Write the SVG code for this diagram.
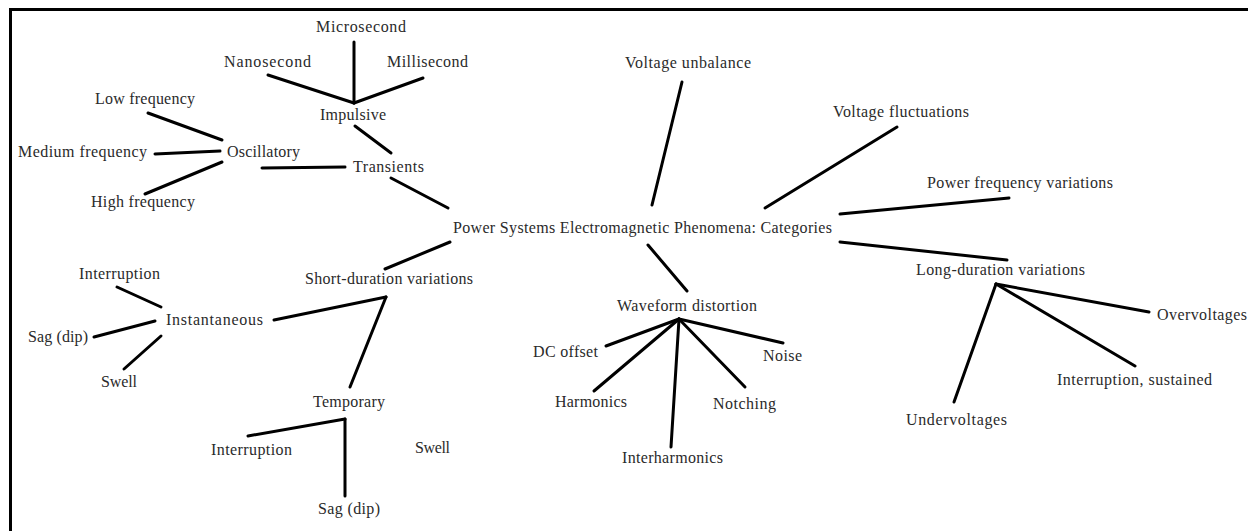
<svg xmlns="http://www.w3.org/2000/svg" width="1248" height="531" viewBox="0 0 1248 531">
<style>
text{font-family:"Liberation Serif","DejaVu Serif","Times New Roman",serif;font-size:16px;fill:#2a2a2a;}
.c line{stroke:#000;stroke-width:3;stroke-linecap:round;}
.frame{stroke:#000;stroke-width:3;fill:none;}
</style>
<rect width="1248" height="531" fill="#fff"/>
<path class="frame" d="M10.5 531 V9.5 H1248"/>
<g class="c" id="connectors">
<line x1="354" y1="42" x2="354" y2="103"/>
<line x1="268" y1="75" x2="354" y2="103"/>
<line x1="423" y1="78" x2="354" y2="103"/>
<line x1="355" y1="126" x2="391" y2="153"/>
<line x1="148" y1="113" x2="222" y2="140"/>
<line x1="155" y1="154" x2="220" y2="151"/>
<line x1="145" y1="194" x2="222" y2="162"/>
<line x1="262" y1="168" x2="345" y2="167"/>
<line x1="391" y1="178" x2="448" y2="208"/>
<line x1="682" y1="82" x2="652" y2="205"/>
<line x1="765" y1="208" x2="897" y2="127"/>
<line x1="840" y1="214" x2="1009" y2="198"/>
<line x1="840" y1="242" x2="1007" y2="260"/>
<line x1="996" y1="284" x2="1149" y2="312"/>
<line x1="996" y1="284" x2="1135" y2="366"/>
<line x1="996" y1="284" x2="954" y2="402"/>
<line x1="648" y1="245" x2="687" y2="291"/>
<line x1="679" y1="319" x2="606" y2="346"/>
<line x1="679" y1="319" x2="594" y2="391"/>
<line x1="679" y1="319" x2="671" y2="447"/>
<line x1="679" y1="319" x2="745" y2="387"/>
<line x1="679" y1="319" x2="783" y2="343"/>
<line x1="450" y1="242" x2="385" y2="269"/>
<line x1="386" y1="297" x2="274" y2="320"/>
<line x1="386" y1="297" x2="350" y2="387"/>
<line x1="117" y1="287" x2="161" y2="307"/>
<line x1="94" y1="337" x2="155" y2="321"/>
<line x1="124" y1="369" x2="161" y2="336"/>
<line x1="345" y1="419" x2="248" y2="436"/>
<line x1="345" y1="419" x2="345" y2="496"/>
</g>
<g id="n-root"><text x="453" y="233" textLength="379">Power Systems Electromagnetic Phenomena: Categories</text></g>
<g id="n-transients"><text x="353" y="172" textLength="71">Transients</text></g>
<g id="n-impulsive"><text x="320" y="120" textLength="66">Impulsive</text></g>
<g id="n-microsecond"><text x="316" y="32" textLength="90">Microsecond</text></g>
<g id="n-nanosecond"><text x="224" y="67" textLength="87">Nanosecond</text></g>
<g id="n-millisecond"><text x="387" y="67" textLength="81">Millisecond</text></g>
<g id="n-oscillatory"><text x="227" y="157" textLength="73">Oscillatory</text></g>
<g id="n-low"><text x="95" y="104" textLength="100">Low frequency</text></g>
<g id="n-medium"><text x="18" y="157" textLength="129">Medium frequency</text></g>
<g id="n-high"><text x="91" y="207" textLength="104">High frequency</text></g>
<g id="n-unbalance"><text x="625" y="68" textLength="126">Voltage unbalance</text></g>
<g id="n-fluct"><text x="833" y="117" textLength="136">Voltage fluctuations</text></g>
<g id="n-pfv"><text x="927" y="188" textLength="186">Power frequency variations</text></g>
<g id="n-long"><text x="916" y="275" textLength="169">Long-duration variations</text></g>
<g id="n-over"><text x="1157" y="320" textLength="90">Overvoltages</text></g>
<g id="n-intsust"><text x="1057" y="385" textLength="155">Interruption, sustained</text></g>
<g id="n-under"><text x="906" y="425" textLength="101">Undervoltages</text></g>
<g id="n-wave"><text x="617" y="311" textLength="140">Waveform distortion</text></g>
<g id="n-dc"><text x="533" y="357" textLength="65">DC offset</text></g>
<g id="n-harm"><text x="555" y="407" textLength="72">Harmonics</text></g>
<g id="n-inter"><text x="622" y="463" textLength="101">Interharmonics</text></g>
<g id="n-notch"><text x="713" y="409" textLength="63">Notching</text></g>
<g id="n-noise"><text x="763" y="361" textLength="39">Noise</text></g>
<g id="n-short"><text x="305" y="284" textLength="168">Short-duration variations</text></g>
<g id="n-inst"><text x="166" y="325" textLength="97">Instantaneous</text></g>
<g id="n-inst-int"><text x="79" y="279" textLength="81">Interruption</text></g>
<g id="n-inst-sag"><text x="28" y="342" textLength="60">Sag (dip)</text></g>
<g id="n-inst-swell"><text x="101" y="387" textLength="36">Swell</text></g>
<g id="n-temp"><text x="313" y="407" textLength="72">Temporary</text></g>
<g id="n-temp-int"><text x="211" y="455" textLength="81">Interruption</text></g>
<g id="n-temp-sag"><text x="318" y="514" textLength="62">Sag (dip)</text></g>
<g id="n-temp-swell"><text x="415" y="453" textLength="35">Swell</text></g>
</svg>
